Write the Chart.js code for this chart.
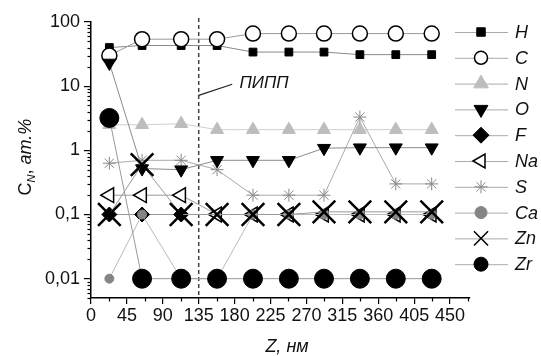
<!DOCTYPE html>
<html><head><meta charset="utf-8">
<script src="https://cdn.jsdelivr.net/npm/chart.js@4.4.0/dist/chart.umd.min.js"></script>
<style>html,body{margin:0;padding:0;background:#fff;}#wrap{width:541px;height:356px;}</style>
</head><body><div id="wrap"><canvas id="c" width="541" height="356"></canvas></div>
<script>
// ---- data ----
const depth = [23, 64, 113, 158, 203, 248, 292, 337, 382, 427];
const H  = [40, 43, 43, 43, 34, 34, 34, 31, 31, 31];
const C  = [30, 54, 54, 54, 66, 66, 66, 66, 66, 66];
const N  = [2.5, 2.5, 2.6, 2.1, 2.1, 2.1, 2.1, 2.1, 2.1, 2.1];
const O  = [23, 0.52, 0.5, 0.7, 0.7, 0.7, 1.08, 1.1, 1.1, 1.1];
const F  = [0.1, 0.1, 0.1, null, null, null, null, null, null, null];
const Na = [0.2, 0.2, 0.2, 0.1, 0.1, 0.1, 0.1, 0.1, 0.1, 0.1];
const S  = [0.63, 0.7, 0.7, 0.5, 0.2, 0.2, 0.2, 3.3, 0.3, 0.3];
const Ca = [0.01, 0.1, 0.01, 0.01, 0.1, 0.1, 0.1, 0.1, 0.1, 0.1];
const Zn = [0.1, 0.6, 0.1, 0.1, 0.1, 0.1, 0.11, 0.11, 0.11, 0.11];
const Zr = [3.2, 0.01, 0.01, 0.01, 0.01, 0.01, 0.01, 0.01, 0.01, 0.01];
const seriesNames = ['H', 'C', 'N', 'O', 'F', 'Na', 'S', 'Ca', 'Zn', 'Zr'];
const seriesValues = [H, C, N, O, F, Na, S, Ca, Zn, Zr];
const xTicks = [0, 45, 90, 135, 180, 225, 270, 315, 360, 405, 450];
const yTicks = [0.01, 0.1, 1, 10, 100];
const yTickLabels = ['0,01', '0,1', '1', '10', '100'];
const pippX = 135;
const pippLabel = 'ПИПП';
const xTitle = 'Z, нм';

// ---- styles ----
const styles = {
  H:  {ps:'rect', r:5.5, lr:6, bg:'#000', bc:'#000', bw:1, rot:0, line:'#8a8a8a', order:9},
  C:  {ps:'circle', r:7.5, lr:6.5, bg:'#fff', bc:'#000', bw:1.5, rot:0, line:'#999', order:8},
  N:  {ps:'triangle', r:7.5, lr:8.5, bg:'#bdbdbd', bc:'#bdbdbd', bw:1, rot:0, line:'#cfcfcf', order:10},
  O:  {ps:'triangle', r:7.5, lr:8, bg:'#000', bc:'#000', bw:1, rot:180, line:'#8a8a8a', order:6},
  F:  {ps:'rectRot', r:7.5, lr:8, bg:'#000', bc:'#000', bw:1, rot:0, line:'#999', order:5},
  Na: {ps:'triangle', r:8.5, lr:8, bg:'#fff', bc:'#000', bw:1.5, rot:-90, line:'#999', order:4},
  S:  {ps:'star', r:6.5, lr:6.5, bg:'#888', bc:'#888', bw:1, rot:0, line:'#aaa', order:7},
  Ca: {ps:'circle', r:4.5, lr:6, bg:'#858585', bc:'#858585', bw:1, rot:0, line:'#bbb', order:3},
  Zn: {ps:'crossRot', r:16, lr:10, bg:'#000', bc:'#000', bw:2.5, rot:0, line:'#999', order:1},
  Zr: {ps:'circle', r:9.5, lr:7, bg:'#000', bc:'#000', bw:1, rot:0, line:'#999', order:2}
};

const datasets = seriesNames.map((name, i) => {
  const st = styles[name];
  return {
    label: name,
    data: depth.map((x, j) => ({x: x, y: seriesValues[i][j]})),
    borderColor: st.line, borderWidth: 1, spanGaps: false,
    pointStyle: st.ps, pointRadius: st.r, pointRotation: st.rot,
    pointBackgroundColor: st.bg, pointBorderColor: st.bc, pointBorderWidth: st.bw,
    pointHoverRadius: st.r, order: st.order, fill: false, tension: 0
  };
});

const deco = {
  id: 'deco',
  beforeDatasetsDraw(chart) {
    const ctx = chart.ctx, xs = chart.scales.x, a = chart.chartArea;
    const px = xs.getPixelForValue(pippX);
    ctx.save();
    ctx.strokeStyle = '#444'; ctx.lineWidth = 1.5; ctx.setLineDash([4, 3]);
    ctx.beginPath(); ctx.moveTo(px, a.top - 4); ctx.lineTo(px, a.bottom); ctx.stroke();
    ctx.setLineDash([]);
    ctx.restore();
  },
  afterDraw(chart) {
    const ctx = chart.ctx, xs = chart.scales.x, ys = chart.scales.y, a = chart.chartArea;
    ctx.save();
    // minor ticks
    ctx.strokeStyle = '#000'; ctx.lineWidth = 1.2;
    for (let d = 0.001; d < 100; d *= 10) {
      for (let k = 2; k <= 9; k++) {
        const v = k * d;
        if (v < 0.005 - 1e-9 || v > 100) continue;
        const py = Math.round(ys.getPixelForValue(v)) + 0.5;
        ctx.beginPath(); ctx.moveTo(a.left, py); ctx.lineTo(a.left - 3.5, py); ctx.stroke();
      }
    }
    for (let v = 22.5; v < 475; v += 45) {
      const px = Math.round(xs.getPixelForValue(v)) + 0.5;
      ctx.beginPath(); ctx.moveTo(px, a.bottom); ctx.lineTo(px, a.bottom + 3.5); ctx.stroke();
    }
    // annotation
    const px0 = xs.getPixelForValue(pippX);
    ctx.strokeStyle = '#222'; ctx.lineWidth = 1.2;
    ctx.beginPath(); ctx.moveTo(px0, ys.getPixelForValue(7.2)); ctx.lineTo(xs.getPixelForValue(177), ys.getPixelForValue(10.7)); ctx.stroke();
    ctx.fillStyle = '#111';
    ctx.font = 'italic 17px "Liberation Sans", Arial, sans-serif';
    ctx.textBaseline = 'middle'; ctx.textAlign = 'left';
    ctx.fillText(pippLabel, xs.getPixelForValue(186), ys.getPixelForValue(10.7) - 1);
    // x title
    ctx.font = 'italic 18px "Liberation Sans", Arial, sans-serif';
    ctx.textAlign = 'center'; ctx.textBaseline = 'alphabetic';
    ctx.fillText(xTitle, 287, 352);
    // y title (rotated)
    ctx.save();
    ctx.translate(31, 157);
    ctx.rotate(-Math.PI / 2);
    const parts = [
      {t:'C', f:'18px "Liberation Sans", Arial, sans-serif', dy:0},
      {t:'N', f:'italic 11px "Liberation Sans", Arial, sans-serif', dy:4},
      {t:', ', f:'18px "Liberation Sans", Arial, sans-serif', dy:0},
      {t:'ат.%', f:'italic 18px "Liberation Sans", Arial, sans-serif', dy:0}
    ];
    let total = 0;
    parts.forEach(p => { ctx.font = p.f; p.w = ctx.measureText(p.t).width; total += p.w; });
    let cx = -total / 2;
    ctx.textAlign = 'left'; ctx.textBaseline = 'alphabetic';
    parts.forEach(p => { ctx.font = p.f; ctx.fillText(p.t, cx, p.dy); cx += p.w; });
    ctx.restore();
    // legend
    const ly0 = 32, lstep = 25.8;
    seriesNames.forEach((name, i) => {
      const st = styles[name];
      const y = ly0 + i * lstep;
      ctx.strokeStyle = '#aaa'; ctx.lineWidth = 1;
      ctx.beginPath(); ctx.moveTo(455, y + 0.5); ctx.lineTo(508, y + 0.5); ctx.stroke();
      ctx.fillStyle = st.bg; ctx.strokeStyle = st.bc; ctx.lineWidth = Math.min(st.bw, 1.5);
      Chart.helpers.drawPoint(ctx, {pointStyle: st.ps, radius: st.lr, rotation: st.rot, borderWidth: ctx.lineWidth}, 481, y);
      ctx.fillStyle = '#111';
      ctx.font = 'italic 18px "Liberation Sans", Arial, sans-serif';
      ctx.textAlign = 'left'; ctx.textBaseline = 'middle';
      ctx.fillText(name, 515, y + 1);
    });
    ctx.restore();
  }
};

new Chart(document.getElementById('c'), {
  type: 'line',
  data: {datasets: datasets},
  options: {
    responsive: false, animation: false, devicePixelRatio: 1,
    layout: {padding: {left: 0, top: 22, right: 71, bottom: 0}},
    plugins: {legend: {display: false}, tooltip: {enabled: false}},
    scales: {
      x: {
        type: 'linear', min: 0, max: 475,
        afterBuildTicks(s) { s.ticks = xTicks.map(v => ({value: v})); },
        afterFit(s) { s.height = 58; },
        grid: {display: true, drawOnChartArea: false, drawTicks: true, tickLength: 6, color: '#000', lineWidth: 1.2},
        border: {display: true, color: '#000', width: 1.5},
        ticks: {font: {family: '"Liberation Sans", Arial, sans-serif', size: 18}, color: '#111', padding: 1, maxRotation: 0, autoSkip: false,
                callback: v => String(v)}
      },
      y: {
        type: 'logarithmic', min: 0.005, max: 100,
        afterBuildTicks(s) { s.ticks = yTicks.map(v => ({value: v})); },
        afterFit(s) { s.width = 91; },
        grid: {display: true, drawOnChartArea: false, drawTicks: true, tickLength: 7, color: '#000', lineWidth: 1.2},
        border: {display: true, color: '#000', width: 1.5},
        ticks: {font: {family: '"Liberation Sans", Arial, sans-serif', size: 18}, color: '#111', padding: 4, autoSkip: false,
                callback: v => { const i = yTicks.findIndex(t => Math.abs(t - v) < 1e-12); return i >= 0 ? yTickLabels[i] : ''; }}
      }
    }
  },
  plugins: [deco]
});
</script></body></html>
